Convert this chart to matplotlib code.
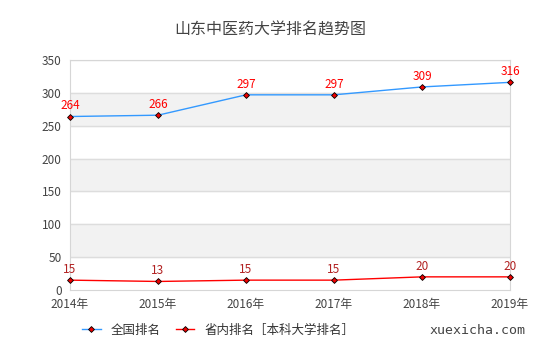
import matplotlib.pyplot as plt
from matplotlib.lines import Line2D

plt.rcParams['font.family'] = ['Noto Sans CJK SC', 'DejaVu Sans']

years = ['2014年', '2015年', '2016年', '2017年', '2018年', '2019年']
national = [264, 266, 297, 297, 309, 316]
province = [15, 13, 15, 15, 20, 20]

fig = plt.figure(figsize=(5.4, 3.6), dpi=100)
ax = fig.add_axes([70 / 540, 1 - 290 / 360, 440 / 540, 230 / 360])

x = list(range(len(years)))
ax.set_xlim(0, len(years) - 1)
ax.set_ylim(0, 350)

# alternating grey bands
for lo in (50, 150, 250):
    ax.axhspan(lo, lo + 50, color='#f2f2f2', zorder=0)
for yv in range(50, 351, 50):
    ax.axhline(yv, color='#dddddd', lw=1, zorder=1)

ax.plot(x, national, color='#3399ff', lw=1, zorder=3, clip_on=False)
ax.plot(x, national, ls='none', marker='D', ms=3, mfc='#ee0000', mec='black', mew=0.6, zorder=4, clip_on=False)
ax.plot(x, province, color='#ff0000', lw=1, zorder=3, clip_on=False)
ax.plot(x, province, ls='none', marker='D', ms=3, mfc='#ee0000', mec='black', mew=0.6, zorder=4, clip_on=False)

for xi, v in zip(x, national):
    ax.annotate(str(v), (xi, v), xytext=(0, 3), textcoords='offset points',
                ha='center', va='bottom', color='#ff0000', fontsize=8.5)
for xi, v in zip(x, province):
    ax.annotate(str(v), (xi, v), xytext=(0, 3), textcoords='offset points',
                ha='center', va='bottom', color='#b22222', fontsize=8.5)

ax.set_xticks(x)
ax.set_xticklabels(years)
ax.set_yticks(range(0, 351, 50))
ax.tick_params(length=0, labelsize=8.5, colors='#444444', pad=6)
for s in ax.spines.values():
    s.set_color('#d6d6d6')

fig.text(0.5, 1 - 30 / 360, '山东中医药大学排名趋势图', ha='center', va='center',
         fontsize=11.5, color='#444444')

handles = [
    Line2D([], [], color='#3399ff', lw=1, marker='D', ms=3, mfc='#ee0000', mec='black', mew=0.6),
    Line2D([], [], color='#ff0000', lw=1, marker='D', ms=3, mfc='#ee0000', mec='black', mew=0.6),
]
fig.legend(handles, ['全国排名', '省内排名［本科大学排名］'], loc='center',
           bbox_to_anchor=(218 / 540, 1 - 330 / 360), ncol=2, frameon=False,
           fontsize=9, handlelength=1.5, columnspacing=1.2, labelcolor='#333333')
fig.text(478 / 540, 1 - 330 / 360, 'xuexicha.com', ha='center', va='center',
         fontsize=9.5, color='#444444', family='DejaVu Sans Mono')

fig.savefig('out.png', dpi=100)
